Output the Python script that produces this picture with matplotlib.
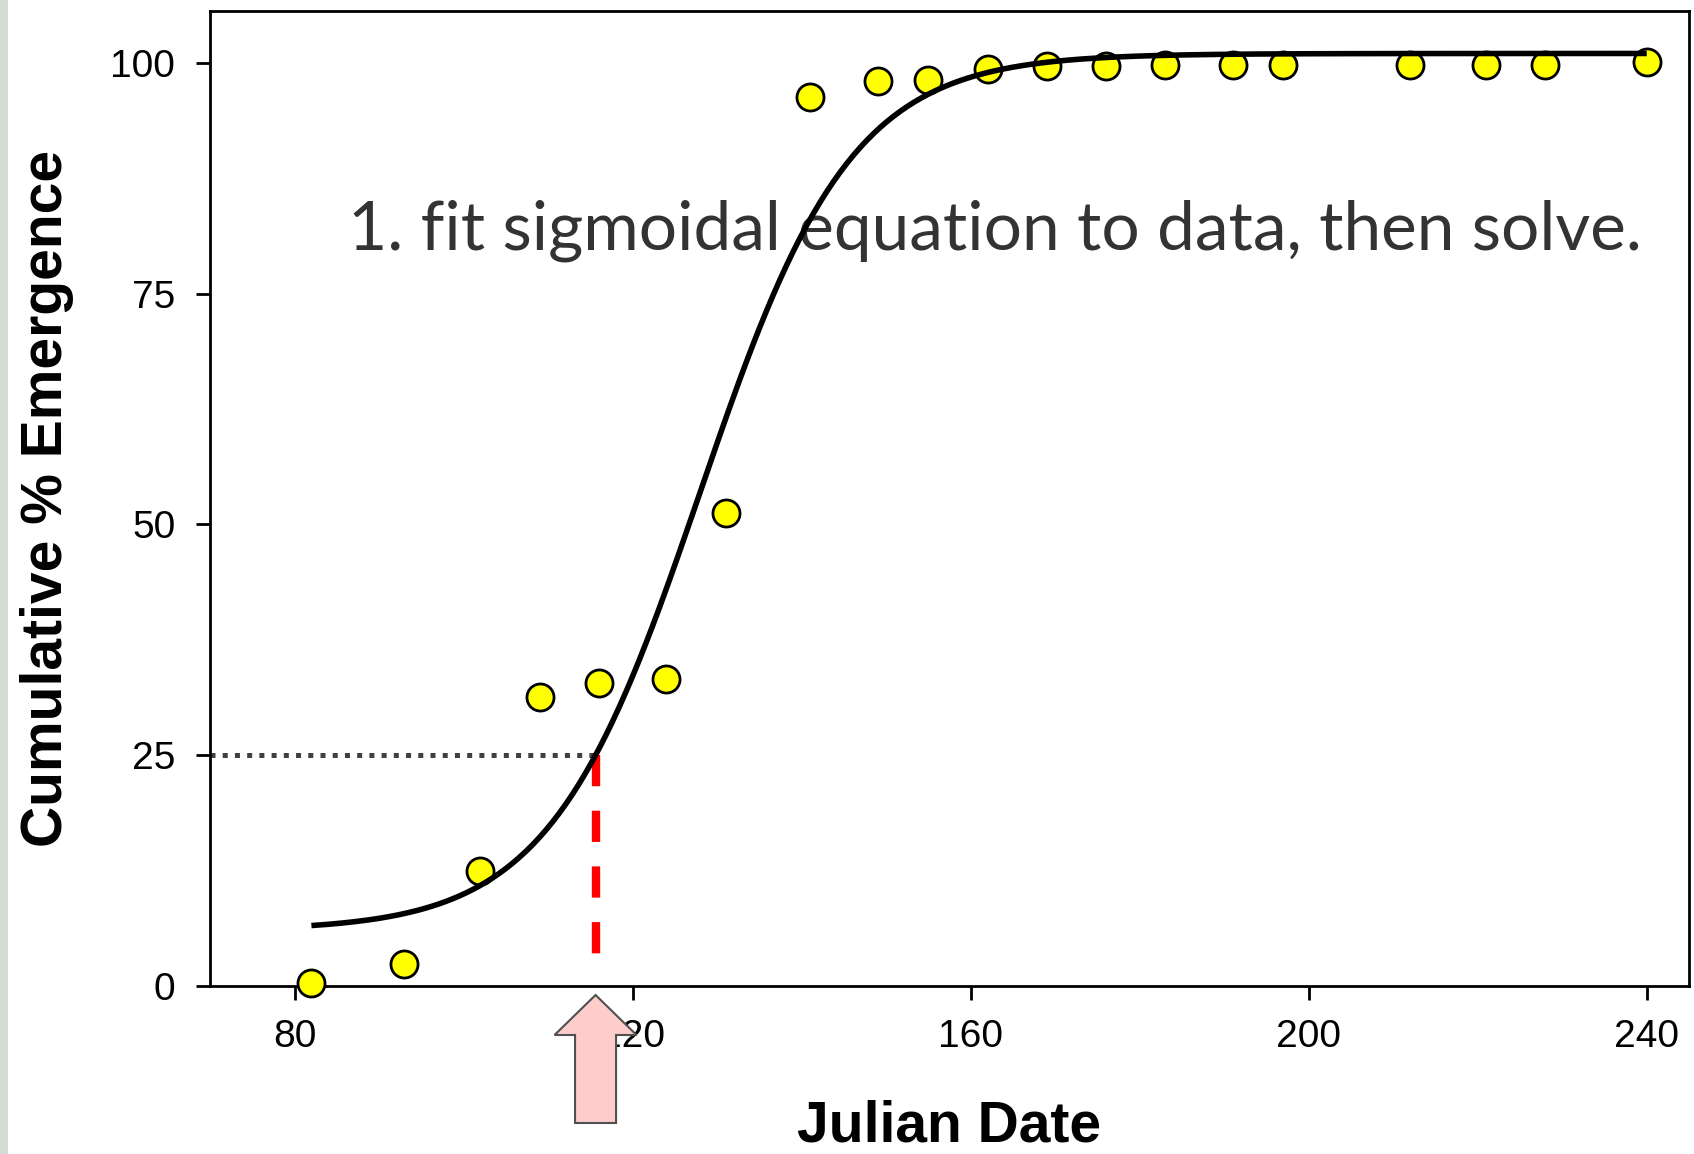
import numpy as np
import matplotlib.pyplot as plt
from matplotlib import transforms
from matplotlib.patches import Polygon, Rectangle

plt.rcParams['font.family'] = 'Liberation Sans'
plt.rcParams['lines.scale_dashes'] = False

# === Data ===
julian_day = [82, 93, 102, 109, 116, 124, 131, 141, 149, 155,
              162, 169, 176, 183, 191, 197, 212, 221, 228, 240]
emergence = [0.3, 2.4, 12.5, 31.3, 32.8, 33.3, 51.2, 96.3, 98.0, 98.1,
             99.3, 99.6, 99.6, 99.8, 99.8, 99.8, 99.8, 99.8, 99.8, 100.1]

# fitted 4-parameter sigmoid: y = y0 + a / (1 + exp(-(x - x0) / b))
fit_y0 = 6.0
fit_a = 95.0
fit_x0 = 128.0
fit_b = 8.93
target_pct = 25
dash_bottom = 2.8

x_ticks = [80, 120, 160, 200, 240]
y_ticks = [0, 25, 50, 75, 100]
x_lim = (70, 245)
y_lim = (0, 105.6)


def sigmoid(x):
    return fit_y0 + fit_a / (1 + np.exp(-(x - fit_x0) / fit_b))


# solve the fit for the target percentage
x_target = fit_x0 - fit_b * np.log(fit_a / (target_pct - fit_y0) - 1)

W, H = 1694, 1154
fig = plt.figure(figsize=(W / 100, H / 100), dpi=100)
ax = fig.add_axes([210 / W, 1 - 986 / H, 1479 / W, 975 / H])

# light strip along the left edge
fig.add_artist(Rectangle((0, 0), 8 / W, 1, transform=fig.transFigure,
                         facecolor='#d3ded3', edgecolor='none', zorder=0))

# data + fitted curve
ax.plot(julian_day, emergence, 'o', ms=19.5, mfc='#ffff00', mec='black',
        mew=2, zorder=3, clip_on=False)
xs = np.linspace(min(julian_day), max(julian_day), 400)
ax.plot(xs, sigmoid(xs), color='black', lw=4, zorder=4,
        solid_capstyle='butt')

# solve lines
ax.plot([x_lim[0], x_target], [target_pct, target_pct], color='#404040',
        lw=3.6, linestyle=(0, (3.6, 5.2)), zorder=2, clip_on=False)
ax.plot([x_target, x_target], [target_pct, dash_bottom], color='#ff0000',
        lw=6, linestyle=(0, (22.5, 17.6)), zorder=2)

# annotation
t = ax.text(138 / 1479, 736 / 975,
            '1. fit sigmoidal equation to data, then solve.',
            transform=ax.transAxes, fontsize=44, family='Lato',
            color='#333333', ha='left', va='baseline', zorder=1)

ax.set_xlim(*x_lim)
ax.set_ylim(*y_lim)
ax.set_xticks(x_ticks)
ax.set_yticks(y_ticks)
ax.tick_params(axis='both', direction='out', length=10, width=2,
               labelsize=28, color='black')
ax.tick_params(axis='y', pad=15)
ax.tick_params(axis='x', pad=14)
for s in ax.spines.values():
    s.set_linewidth(2)

ax.set_xlabel('Julian Date', fontsize=41, fontweight='bold')
ax.set_ylabel('Cumulative % Emergence', fontsize=41, fontweight='bold')
ax.xaxis.label.set_va('center')
ax.yaxis.label.set_va('center')
ax.xaxis.set_label_coords(0.5, (986 - 1126) / 975)
ax.yaxis.set_label_coords((47.5 - 210) / 1479, 0.5)

# pink arrow pointing up at the solved date (offsets in inches)
verts = [(0, -0.09), (0.41, -0.49), (0.205, -0.49), (0.205, -1.37),
         (-0.205, -1.37), (-0.205, -0.49), (-0.41, -0.49)]
arrow_trans = fig.dpi_scale_trans + transforms.ScaledTranslation(
    x_target, 0, ax.transData)
fig.add_artist(Polygon(verts, closed=True, transform=arrow_trans,
                       facecolor='#ffcccc', edgecolor='#505050', lw=1.5,
                       zorder=10))

# stretch the annotation to the width it spans in the original
fig.canvas.draw()
w = t.get_window_extent().width
t.set_fontsize(44 * 1294 / w)

fig.savefig('out.png', dpi=100)
